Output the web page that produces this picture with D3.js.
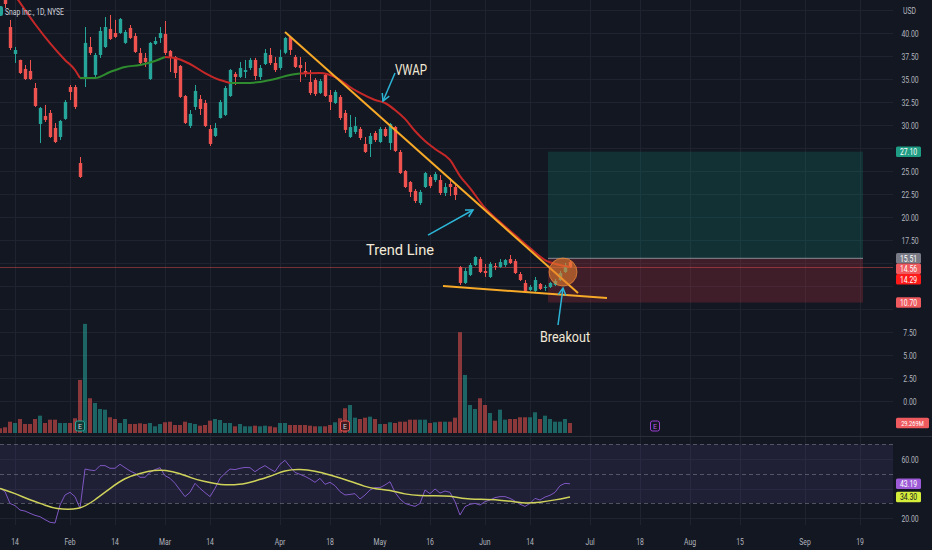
<!DOCTYPE html>
<html>
<head>
<meta charset="utf-8">
<script src="https://cdn.jsdelivr.net/npm/d3@7"></script>
<style>
  html, body { margin: 0; padding: 0; background: #131722; }
  svg { display: block; font-family: Roboto, "Noto Sans", sans-serif; }
</style>
</head>
<body>
<svg id="chart" width="932" height="550"></svg>
<script>
// ---- data (SNAP daily, Jan 11 - Jun 27 2022) ----
const holidays = ["2022-01-17", "2022-02-21", "2022-04-15", "2022-05-30", "2022-06-20", "2022-07-04", "2022-09-05"]
const firstDay = "2022-01-11"

const tickDates = ["2022-01-14", "2022-02-01", "2022-02-14", "2022-03-01", "2022-03-14", "2022-04-01", "2022-04-18",
  "2022-05-02", "2022-05-16", "2022-06-01", "2022-06-14", "2022-07-01", "2022-07-18", "2022-08-01", "2022-08-15",
  "2022-09-01", "2022-09-19"]
const tickLabels = ["14", "Feb", "14", "Mar", "14", "Apr", "18", "May", "16", "Jun", "14", "Jul", "18", "Aug", "15", "Sep", "19"]

const openP = [45.2, 44.3, 40.65, 37.72, 37.07, 36.09, 35.87, 34.02, 30.11, 30.98, 31.31, 29.68, 28.7, 30.66, 34.13, 34.13,
  25.87, 35.22, 38.48, 35.44, 37.61, 38.48, 40.44, 40.0, 40.0, 38.92, 40.55, 39.68, 37.83, 37.29, 35.0, 38.81, 39.46,
  39.9, 38.05, 37.39, 36.42, 33.15, 29.89, 31.96, 32.83, 32.39, 29.57, 28.81, 30.76, 31.09, 33.15, 35.55, 35.22, 35.76,
  36.2, 37.07, 35.22, 36.63, 37.61, 36.74, 36.2, 37.85, 39.57, 37.39, 36.52, 35.87, 34.68, 34.89, 33.48, 35.44, 33.26,
  32.39, 33.05, 31.31, 28.7, 29.24, 29.57, 27.94, 27.94, 29.13, 28.15, 29.57, 28.04, 29.78, 27.07, 25.0, 23.8, 22.83,
  21.52, 23.26, 24.35, 24.02, 24.02, 22.61, 23.59, 23.26, 14.56, 12.83, 13.7, 14.78, 15.43, 14.13, 13.48, 14.67, 14.57,
  14.78, 15.43, 15.21, 13.8, 12.83, 12.07, 11.96, 12.72, 12.28, 12.39, 12.61, 13.15, 14.02, 15.1]
const highP = [45.9, 44.8, 41.42, 38.48, 37.1, 36.52, 37.07, 34.57, 31.96, 32.18, 31.63, 30.22, 30.55, 32.72, 34.35, 34.35,
  26.52, 40.65, 39.57, 37.83, 40.65, 41.74, 41.96, 41.42, 41.63, 40.33, 40.87, 40.0, 38.37, 37.83, 39.02, 39.57, 40.65,
  41.3, 38.15, 37.5, 36.52, 33.26, 31.63, 34.35, 33.26, 32.72, 30.0, 30.22, 32.72, 34.24, 36.09, 35.76, 36.85, 37.07,
  37.29, 37.29, 36.52, 38.26, 38.37, 37.39, 38.18, 39.57, 39.68, 37.61, 37.39, 36.85, 35.98, 35.1, 35.0, 35.65, 33.8,
  33.8, 33.26, 31.63, 31.09, 30.87, 29.78, 28.7, 29.13, 29.35, 29.78, 29.78, 30.22, 29.89, 27.29, 25.11, 23.91, 23.04,
  22.94, 24.89, 24.56, 24.89, 24.56, 23.69, 24.24, 23.48, 14.67, 14.46, 15.0, 15.75, 15.65, 14.89, 15.1, 15.0, 15.43,
  15.43, 15.87, 15.43, 14.02, 13.15, 12.61, 13.48, 12.83, 12.61, 12.94, 13.26, 14.13, 15.0, 15.21]
const lowP = [43.8, 42.72, 38.15, 36.74, 35.55, 34.89, 34.89, 31.96, 28.04, 30.33, 28.59, 28.04, 28.37, 30.55, 32.72, 31.74,
  24.24, 34.13, 37.61, 35.1, 37.29, 38.37, 39.24, 39.46, 39.9, 38.81, 39.35, 37.83, 36.63, 36.31, 34.89, 38.7, 38.92,
  37.61, 35.76, 35.1, 32.94, 30.11, 29.68, 31.63, 31.09, 29.78, 27.72, 28.7, 30.7, 30.98, 33.05, 34.35, 35.1, 35.1,
  35.98, 34.89, 34.89, 36.52, 36.52, 35.76, 35.98, 37.7, 37.61, 36.2, 34.68, 35.22, 33.26, 33.15, 33.37, 33.05, 31.63,
  32.28, 30.55, 29.13, 28.59, 29.02, 28.37, 26.96, 26.52, 28.15, 28.04, 28.7, 27.29, 27.07, 24.67, 23.15, 22.17, 21.52,
  21.31, 23.15, 23.15, 23.8, 22.39, 22.28, 22.28, 21.85, 12.61, 12.72, 13.59, 14.67, 13.91, 13.48, 13.37, 14.24, 14.46,
  14.57, 14.89, 13.8, 13.04, 11.85, 11.96, 11.85, 12.07, 11.96, 12.28, 12.5, 13.04, 13.91, 14.46]
const closeP = [44.0, 43.15, 38.37, 38.15, 35.65, 35.0, 35.0, 32.07, 31.85, 30.55, 28.7, 28.15, 30.44, 32.5, 33.59, 31.96,
  24.35, 38.92, 37.83, 37.61, 40.22, 40.65, 39.35, 39.57, 41.52, 40.11, 39.46, 37.94, 36.74, 36.85, 38.92, 39.13, 40.0,
  37.83, 37.39, 35.65, 33.05, 30.22, 31.2, 33.7, 31.74, 29.89, 27.94, 29.68, 32.5, 34.02, 35.98, 35.22, 36.2, 35.98,
  37.07, 35.33, 36.2, 37.83, 36.74, 35.98, 37.39, 39.46, 38.15, 36.31, 36.2, 35.65, 33.48, 33.37, 34.78, 33.15, 32.5,
  33.59, 30.76, 29.46, 29.78, 29.89, 28.59, 27.07, 28.81, 28.37, 29.57, 28.81, 30.11, 27.18, 24.78, 23.26, 22.72, 21.74,
  22.72, 24.78, 23.37, 24.67, 22.61, 23.26, 23.26, 22.39, 12.83, 14.13, 14.78, 15.65, 14.02, 13.91, 14.89, 14.57, 15.1,
  15.32, 15.0, 13.91, 13.15, 11.96, 12.39, 13.15, 12.18, 12.39, 12.83, 13.04, 13.91, 14.78, 14.56]

// volume in millions of shares
const volumeM = [13.8, 16.7, 33.1, 29.3, 41.0, 26.4, 26.4, 41.0, 50.7, 29.3, 39.0, 39.0, 29.3, 29.3, 29.3, 43.1, 155.3,
  319.4, 101.7, 87.9, 70.3, 68.3, 46.0, 41.0, 29.3, 41.0, 26.4, 26.4, 28.4, 26.4, 29.3, 19.6, 26.4, 31.4, 33.1, 23.4,
  23.4, 33.1, 29.3, 26.4, 21.4, 23.4, 36.0, 41.0, 38.1, 29.3, 29.3, 19.6, 26.4, 19.6, 19.6, 21.4, 19.6, 21.4, 19.6, 16.7,
  29.3, 29.3, 23.4, 23.4, 23.4, 23.4, 21.4, 19.6, 19.6, 19.6, 23.4, 31.4, 43.1, 72.4, 82.0, 44.8, 41.0, 44.8, 47.8, 41.0,
  26.4, 26.4, 31.4, 29.3, 33.1, 33.1, 39.0, 39.0, 39.0, 39.0, 29.3, 31.4, 33.1, 33.1, 33.1, 44.8, 295.1, 169.9, 82.0,
  70.3, 101.7, 82.0, 58.6, 36.0, 68.3, 39.0, 41.0, 41.0, 46.0, 46.0, 46.0, 60.7, 41.0, 50.7, 41.0, 33.1, 33.1, 41.0, 29.269]

const rsiValues = [40.1, 37.9, 29.9, 28.4, 25.4, 24.7, 23.2, 21.8, 20.9, 18.9, 17.1, 16.6, 28.8, 35.6, 37.4, 34.5, 26.5,
  53.2, 52.5, 52.1, 55.5, 55.5, 53.7, 53.7, 56.4, 54.1, 51.9, 50.3, 47.6, 47.6, 50.9, 52.8, 54.1, 48.7, 46.9, 43.5, 39.0,
  34.5, 37.4, 43.5, 40.1, 37.2, 34.5, 40.1, 46.9, 50.3, 53.2, 52.8, 53.7, 54.3, 54.1, 51.4, 53.7, 55.5, 53.2, 51.4, 56.4,
  59.1, 54.8, 50.9, 49.6, 48.2, 46.4, 44.2, 46.9, 42.8, 44.2, 41.9, 37.9, 35.6, 36.0, 36.5, 32.9, 35.6, 39.0, 40.6, 40.6,
  42.4, 44.6, 37.4, 32.9, 29.9, 28.8, 27.9, 29.9, 39.0, 36.5, 39.7, 36.9, 38.3, 37.4, 31.1, 22.0, 27.7, 29.3, 29.9, 28.8,
  31.1, 32.2, 33.8, 34.5, 34.5, 33.3, 31.5, 29.3, 27.9, 29.9, 33.3, 32.2, 34.2, 35.4, 37.4, 41.9, 43.5, 43.19]

// RSI-based moving average, sampled along its curve (bar position, value)
const rsiMaPos = [0, 3, 6, 9, 11, 16, 19, 22, 25, 28, 31, 33, 36, 38, 41, 44, 48, 51, 54, 57, 60, 63, 66, 70, 73, 75, 78,
  81, 84, 87, 90, 93, 96, 100, 103, 105, 108, 111, 114]
const rsiMaVal = [40.1, 36.7, 32.2, 28.8, 26.1, 25.4, 32.2, 40.1, 47.3, 50.3, 52.5, 52.5, 50.3, 47.3, 44.6, 42.4, 42.4,
  45.1, 48.0, 52.5, 53.2, 51.9, 49.2, 45.1, 41.2, 39.7, 39.0, 36.0, 35.1, 35.1, 35.1, 32.9, 32.7, 32.2, 31.1, 29.9, 30.6,
  32.2, 34.3]

// VWAP line, sampled (bar position, value, 1 = green segment / 0 = red segment)
const vwapPos = [3, 7, 10, 13, 15, 16, 19, 22, 25, 28, 31, 33, 35, 38, 41, 44, 46, 49, 52, 55, 58, 60, 64, 67, 70, 72,
  75, 77, 79, 81, 83, 85, 87, 90, 92, 94, 97, 100, 103, 106, 109, 112, 114]
const vwapVal = [44.1, 40.98, 38.9, 37.07, 35.98, 35.1, 35.1, 35.76, 36.31, 36.52, 36.96, 37.39, 37.29, 36.63, 35.65,
  34.89, 34.57, 34.57, 34.68, 35.0, 35.44, 35.6, 35.65, 35.22, 34.13, 33.48, 32.72, 32.39, 31.63, 30.66, 29.35, 28.26,
  27.4, 26.2, 24.45, 23.15, 20.98, 19.46, 18.04, 16.63, 15.32, 14.78, 14.57]
const vwapUp = [0, 0, 0, 0, 0, 1, 1, 1, 1, 1, 1, 0, 0, 0, 0, 0, 1, 1, 1, 1, 1, 0, 0, 0, 0, 0, 0, 0, 0, 0, 0, 0, 0, 0,
  0, 0, 0, 0, 0, 0, 0, 0, 0]

const earningsPos = [16, 69]
const nextEarningsPos = 131

const priceTicks = [0, 2.5, 5, 7.5, 10, 12.5, 15, 17.5, 20, 22.5, 25, 27.5, 30, 32.5, 35, 37.5, 40, 42.5]
const rsiGrid = [60, 40, 20]
const rsiLabels = [60, 20]
const rsiLevels = [70, 50, 30]

// drawings
const trendLine = [[57, 40.1], [115.6, 11.74]]
const supportLine = [[88.6, 12.5], [121.4, 11.2]]
const breakoutCircle = [112.6, 14.02]
const positionBox = { from: 109.6, to: 172.6, target: 27.10, entry: 15.51, stop: 10.70 }
const lastClose = 14.56
const markPrice = 14.29
const lastVolume = 29.269
const lastRsi = 43.19
const lastRsiMa = 34.30

const notes = [
  { text: "VWAP", at: [82.2, 35.98], w: 32, from: [79, 35.65], to: [76.6, 32.61] },
  { text: "Trend Line", at: [80, 16.4], w: 68, from: [85.6, 18.04], to: [94.6, 20.76] },
  { text: "Breakout", at: [113, 6.98], w: 50, from: [111.6, 8.26], to: [112.6, 12.28] },
]

// ---- trading calendar ----
function tradingDays(start, n) {
  const out = []
  const d = new Date(start + "T12:00:00Z")
  while (out.length < n) {
    const wd = d.getUTCDay()
    const s = d.toISOString().slice(0, 10)
    if (wd !== 0 && wd !== 6 && !holidays.includes(s)) out.push(s)
    d.setUTCDate(d.getUTCDate() + 1)
  }
  return out
}
const days = tradingDays(firstDay, 220)

// ---- layout ----
const chartRight = 893
const mainBottom = 436
const rsiTop = 437, rsiBottom = 525

const svg = d3.select("#chart")
const bg = "#131722"
const gridColor = "#1f2330"
const axisText = "#b2b5be"
const upColor = "#26a69a", downColor = "#ef5350"

const x = d3.scaleLinear().domain([0, 178.6]).range([0, chartRight])
const y = d3.scaleLinear().domain([0, 40]).range([401, 33])
const yVol = d3.scaleLinear().domain([0, lastVolume]).range([433, 423])
const yRsi = d3.scaleLinear().domain([20, 60]).range([518, 459])

svg.append("rect").attr("width", 932).attr("height", 550).attr("fill", bg)

const defs = svg.append("defs")
defs.append("clipPath").attr("id", "clipMain").append("rect")
  .attr("x", 0).attr("y", 0).attr("width", chartRight).attr("height", mainBottom)
defs.append("clipPath").attr("id", "clipRsi").append("rect")
  .attr("x", 0).attr("y", rsiTop).attr("width", chartRight).attr("height", rsiBottom - rsiTop)

function condense(sel, k) {
  sel.each(function () {
    const l = this.getComputedTextLength()
    d3.select(this).attr("textLength", l * k).attr("lengthAdjust", "spacingAndGlyphs")
  })
}

/**
 * Grid
 */
const g_grid = svg.append("g")
g_grid.selectAll(".hgrid").data(priceTicks).enter().append("line")
  .attr("x1", 0).attr("x2", chartRight)
  .attr("y1", d => Math.round(y(d)) + 0.5).attr("y2", d => Math.round(y(d)) + 0.5)
  .attr("stroke", gridColor)
g_grid.selectAll(".vgrid").data(tickDates).enter().append("line")
  .attr("x1", d => Math.round(x(days.indexOf(d))) + 0.5).attr("x2", d => Math.round(x(days.indexOf(d))) + 0.5)
  .attr("y1", 0).attr("y2", rsiBottom)
  .attr("stroke", gridColor)
g_grid.selectAll(".rgrid").data(rsiGrid).enter().append("line")
  .attr("x1", 0).attr("x2", chartRight)
  .attr("y1", d => Math.round(yRsi(d)) + 0.5).attr("y2", d => Math.round(yRsi(d)) + 0.5)
  .attr("stroke", gridColor)

// pane separators
svg.append("line").attr("x1", 0).attr("x2", 932).attr("y1", mainBottom + 0.5).attr("y2", mainBottom + 0.5)
  .attr("stroke", "#2a2e39")

/**
 * RSI band
 */
const g_rsi = svg.append("g").attr("clip-path", "url(#clipRsi)")
g_rsi.append("rect")
  .attr("x", 0).attr("width", chartRight)
  .attr("y", yRsi(70)).attr("height", yRsi(30) - yRsi(70))
  .attr("fill", "rgba(126,87,194,0.12)")
g_rsi.selectAll(".lvl").data(rsiLevels).enter().append("line")
  .attr("x1", 0).attr("x2", chartRight)
  .attr("y1", d => Math.round(yRsi(d)) + 0.5).attr("y2", d => Math.round(yRsi(d)) + 0.5)
  .attr("stroke", "rgba(120,123,134,0.6)").attr("stroke-dasharray", "4,3")

/**
 * Main pane
 */
const g_main = svg.append("g").attr("clip-path", "url(#clipMain)")

// position tool
g_main.append("rect")
  .attr("x", x(positionBox.from)).attr("width", x(positionBox.to) - x(positionBox.from))
  .attr("y", y(positionBox.target)).attr("height", y(positionBox.entry) - y(positionBox.target))
  .attr("fill", "rgba(8,153,129,0.2)")
g_main.append("rect")
  .attr("x", x(positionBox.from)).attr("width", x(positionBox.to) - x(positionBox.from))
  .attr("y", y(positionBox.entry)).attr("height", y(positionBox.stop) - y(positionBox.entry))
  .attr("fill", "rgba(242,54,69,0.2)")
g_main.append("line")
  .attr("x1", x(positionBox.from)).attr("x2", x(positionBox.to))
  .attr("y1", y(positionBox.entry)).attr("y2", y(positionBox.entry))
  .attr("stroke", "#8a8d96").attr("stroke-width", 1)

// last price line
g_main.append("line")
  .attr("x1", 0).attr("x2", chartRight)
  .attr("y1", Math.round(y(lastClose)) + 0.5).attr("y2", Math.round(y(lastClose)) + 0.5)
  .attr("stroke", "rgba(239,83,80,0.45)")

const bars = openP.map((o, i) => ({ pos: i, o: o, h: highP[i], l: lowP[i], c: closeP[i], v: volumeM[i] }))

// volume
g_main.selectAll(".vol").data(bars).enter().append("rect")
  .attr("x", d => x(d.pos) - 2).attr("width", 4)
  .attr("y", d => yVol(d.v)).attr("height", d => yVol(0) - yVol(d.v))
  .attr("fill", d => d.c >= d.o ? "rgba(38,166,154,0.55)" : "rgba(239,83,80,0.55)")

// candles
const candle = g_main.selectAll(".candle").data(bars).enter().append("g")
candle.append("line")
  .attr("x1", d => Math.round(x(d.pos)) + 0.5).attr("x2", d => Math.round(x(d.pos)) + 0.5)
  .attr("y1", d => y(d.h)).attr("y2", d => y(d.l))
  .attr("stroke", d => d.c >= d.o ? upColor : downColor)
candle.append("rect")
  .attr("x", d => Math.round(x(d.pos)) - 1.2).attr("width", 3.4)
  .attr("y", d => y(Math.max(d.o, d.c)))
  .attr("height", d => Math.max(1, Math.abs(y(d.o) - y(d.c))))
  .attr("fill", d => d.c >= d.o ? upColor : downColor)

// VWAP, split into coloured runs
const vw = vwapPos.map((p, i) => ({ pos: p, v: vwapVal[i], up: vwapUp[i] }))
const vwLine = d3.line().x(d => x(d.pos)).y(d => y(d.v)).curve(d3.curveMonotoneX)
let run = [vw[0]]
for (let i = 1; i < vw.length; i++) {
  run.push(vw[i])
  if (vw[i].up !== run[0].up || i === vw.length - 1) {
    g_main.append("path").attr("d", vwLine(run)).attr("fill", "none")
      .attr("stroke", run[0].up ? "#2e8b2e" : "#c62828").attr("stroke-width", 2)
    run = [vw[i]]
  }
}

// drawings
g_main.append("line")
  .attr("x1", x(trendLine[0][0])).attr("y1", y(trendLine[0][1]))
  .attr("x2", x(trendLine[1][0])).attr("y2", y(trendLine[1][1]))
  .attr("stroke", "#f7a928").attr("stroke-width", 2)
g_main.append("line")
  .attr("x1", x(supportLine[0][0])).attr("y1", y(supportLine[0][1]))
  .attr("x2", x(supportLine[1][0])).attr("y2", y(supportLine[1][1]))
  .attr("stroke", "#f7a928").attr("stroke-width", 2)
g_main.append("circle")
  .attr("cx", x(breakoutCircle[0])).attr("cy", y(breakoutCircle[1])).attr("r", 14)
  .attr("fill", "rgba(230,125,45,0.6)").attr("stroke", "rgba(240,140,60,0.7)")

function arrow(g, a, b) {
  const x1 = x(a[0]), y1 = y(a[1]), x2 = x(b[0]), y2 = y(b[1])
  const ang = Math.atan2(y2 - y1, x2 - x1), L = 8, s = 0.5
  g.append("line").attr("x1", x1).attr("y1", y1).attr("x2", x2).attr("y2", y2)
    .attr("stroke", "#2cb5d6").attr("stroke-width", 1.5)
  g.append("path")
    .attr("d", `M${x2 - L * Math.cos(ang - s)},${y2 - L * Math.sin(ang - s)}L${x2},${y2}L${x2 - L * Math.cos(ang + s)},${y2 - L * Math.sin(ang + s)}`)
    .attr("fill", "none").attr("stroke", "#2cb5d6").attr("stroke-width", 1.5)
}
notes.forEach(n => {
  arrow(g_main, n.from, n.to)
  g_main.append("text")
    .attr("x", x(n.at[0])).attr("y", y(n.at[1]))
    .attr("text-anchor", "middle").attr("dominant-baseline", "central")
    .attr("font-size", 15).attr("fill", "#f2e9d8")
    .attr("textLength", n.w).attr("lengthAdjust", "spacingAndGlyphs")
    .text(n.text)
})

// earnings markers
function earnMark(pos, stroke, fill, txt) {
  const cx = x(pos)
  svg.append("rect").attr("x", cx - 4.5).attr("y", 421).attr("width", 9).attr("height", 10).attr("rx", 2)
    .attr("fill", fill).attr("stroke", stroke)
  svg.append("text").attr("x", cx).attr("y", 426.5).attr("text-anchor", "middle").attr("dominant-baseline", "central")
    .attr("font-size", 7).attr("fill", txt).text("E")
}
earningsPos.forEach((p, i) => earnMark(p, i === 0 ? upColor : downColor, i === 0 ? "#103a36" : "#3d1a1f", "#d1d4dc"))
earnMark(nextEarningsPos, "#9c3fd0", bg, "#b55ee0")

/**
 * RSI lines
 */
g_rsi.append("path")
  .attr("d", d3.line().x((d, i) => x(i)).y(d => yRsi(d))(rsiValues))
  .attr("fill", "none").attr("stroke", "#7e57c2").attr("stroke-width", 1)
g_rsi.append("path")
  .attr("d", d3.line().x(d => x(d[0])).y(d => yRsi(d[1])).curve(d3.curveBasis)(rsiMaPos.map((p, i) => [p, rsiMaVal[i]])))
  .attr("fill", "none").attr("stroke", "#cfd35a").attr("stroke-width", 1.5)

/**
 * Price scale: value tags first, then the ticks that are not covered by a tag
 */
const tagList = []
tagList.push({ y: y(positionBox.target), label: positionBox.target.toFixed(2), fill: "#1f9d84", color: "#ffffff" })
const stack = [
  { v: positionBox.entry, fill: "#787b86" },
  { v: lastClose, fill: "#ef5a5f" },
  { v: markPrice, fill: "#ff1a1a" },
]
let prevY = -100
stack.forEach(s => {
  const yc = Math.max(y(s.v), prevY + 10.5)
  tagList.push({ y: yc, label: s.v.toFixed(2), fill: s.fill, color: "#ffffff" })
  prevY = yc
})
tagList.push({ y: y(positionBox.stop), label: positionBox.stop.toFixed(2), fill: "#ef5a5f", color: "#ffffff" })
tagList.push({ y: yVol(lastVolume), label: lastVolume.toFixed(3) + "M", fill: "#ef5a5f", color: "#ffffff", w: 33 })
tagList.push({ y: yRsi(lastRsi), label: lastRsi.toFixed(2), fill: "#9d5ad6", color: "#ffffff" })
tagList.push({ y: yRsi(lastRsiMa), label: lastRsiMa.toFixed(2), fill: "#d4ec3a", color: "#131722" })

const free = yy => tagList.every(t => Math.abs(t.y - yy) > 10)

const g_axis = svg.append("g").attr("font-size", 9.5).attr("fill", axisText)
g_axis.selectAll(".pt").data(priceTicks.filter(d => d < 42 && free(y(d)))).enter().append("text")
  .attr("x", 910).attr("y", d => y(d)).attr("text-anchor", "middle").attr("dominant-baseline", "central")
  .text(d => d.toFixed(2))
g_axis.append("text").attr("x", 903).attr("y", y(42.5)).attr("dominant-baseline", "central").text("USD")
g_axis.selectAll(".rt").data(rsiLabels.filter(d => free(yRsi(d)))).enter().append("text")
  .attr("x", 910).attr("y", d => yRsi(d)).attr("text-anchor", "middle").attr("dominant-baseline", "central")
  .text(d => d.toFixed(2))
condense(g_axis.selectAll("text"), 0.72)

tagList.forEach(t => {
  const w = t.w || 25
  const g = svg.append("g")
  g.append("rect").attr("x", 896).attr("y", t.y - 5.25).attr("width", w).attr("height", 10.5).attr("rx", 1.5)
    .attr("fill", t.fill)
  const txt = g.append("text").attr("x", 896 + w / 2).attr("y", t.y).attr("text-anchor", "middle")
    .attr("dominant-baseline", "central").attr("font-size", t.w ? 8 : 9.5).attr("fill", t.color).text(t.label)
  condense(txt, 0.72)
})

/**
 * Time axis
 */
const g_time = svg.append("g").attr("font-size", 9.5).attr("fill", axisText)
g_time.selectAll(".tt").data(tickDates).enter().append("text")
  .attr("x", (d) => x(days.indexOf(d))).attr("y", 541)
  .attr("text-anchor", "middle").attr("dominant-baseline", "central")
  .text((d, i) => tickLabels[i])
condense(g_time.selectAll("text"), 0.72)

/**
 * Title
 */
svg.append("rect").attr("x", -4).attr("y", 6).attr("width", 7).attr("height", 10).attr("rx", 2).attr("fill", upColor)
const title = svg.append("text").attr("x", 5).attr("y", 11).attr("dominant-baseline", "central")
  .attr("font-size", 9.5).attr("fill", "#d1d4dc").text("Snap Inc., 1D, NYSE")
condense(title, 0.72)
</script>
</body>
</html>
